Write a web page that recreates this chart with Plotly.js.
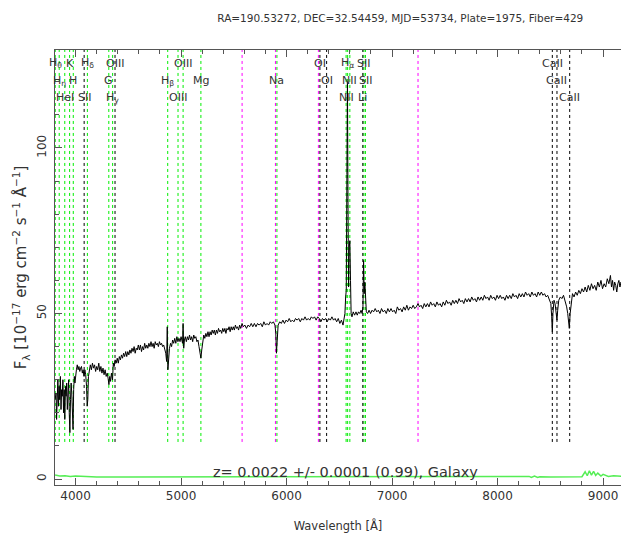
<!DOCTYPE html>
<html>
<head>
<meta charset="utf-8">
<script src="https://cdn.plot.ly/plotly-3.0.1.min.js"></script>
<style>html,body{margin:0;padding:0;background:#fff;}#chart{width:621px;height:533px;}</style>
</head>
<body>
<div id="chart"></div>
<script>
// Spectrum (observed wavelength, flux in 1e-17 erg/cm2/s/A)
const wave = [3806,3815,3820,3826,3832,3838,3844,3850,3856,3862,3868,3874,3880,3886,3892,3898,3904,3910,3916,3922,3928,3934,3940,3946,3952,3958,3964,3970,3976,3982,3988,3994,
4000,4008,4016,4024,4032,4040,4048,4056,4064,4072,4080,4088,4096,4104,4110,4116,4122,4130,4140,4150,4160,4170,4180,4190,4200,4210,4220,4230,4240,4250,4260,4270,4280,4290,4300,4308,4316,4324,4332,4340,4350,4358,4366,4375,4385,4395,
4405,4415,4425,4435,4445,4455,4465,4475,4485,4495,4505,4515,4525,4535,4545,4555,4565,4575,4585,4595,4605,4615,4625,4635,4645,4655,4665,4675,4685,4695,4705,4715,4725,4735,4745,4755,4765,4775,4785,4795,4805,4815,4825,4835,4845,4855,4863,4869,4875,4882,4890,4900,4910,4920,4930,4940,4950,4960,4970,4980,4990,
5000,5008,5014,5019,5025,5032,5040,5050,5060,5070,5080,5090,5100,5110,5120,5130,5140,5150,5160,5170,5180,5188,5196,5205,5215,5225,5235,5245,5255,5265,5275,5285,5295,5305,5315,5325,5335,5345,5355,5365,5375,5385,5395,5405,5415,5425,5435,5445,5455,5465,5475,5485,5495,5505,5515,5525,5535,5545,5555,5565,5578,5590,
5605,5620,5635,5650,5665,5680,5695,5710,5725,5740,5755,5770,5785,5800,5815,5830,5845,5860,5875,5890,5898,5904,5911,5920,5935,5950,5965,5980,5995,
6010,6025,6040,6055,6070,6085,6100,6115,6130,6145,6160,6175,6190,6205,6220,6235,6250,6265,6280,6295,6310,6325,6340,6355,6370,6385,6400,6415,6430,6445,6460,6475,6490,6505,6520,6535,6545,6553,6560,6566,6572,6577,6582,6588,6594,6600,6606,6612,6620,6632,6645,6658,6670,6682,6694,6706,6716,6724,6730,6736,6742,6748,6756,6768,6782,6796,
6810,6825,6840,6855,6870,6885,6900,6915,6930,6945,6960,6975,6990,7005,7020,7035,7050,7065,7080,7095,7110,7125,7140,7155,7170,7185,7200,7215,7230,7246,7260,7275,7290,7305,7320,7335,7350,7365,7380,7395,7410,7425,7440,7455,7470,7485,7500,
7515,7530,7545,7560,7575,7590,7605,7620,7635,7650,7665,7680,7695,7710,7725,7740,7755,7770,7785,7800,7815,7830,7845,7860,7875,7890,7905,7920,7935,7950,7965,7980,7995,
8010,8025,8040,8055,8070,8085,8100,8115,8130,8145,8160,8175,8190,8205,8220,8235,8250,8265,8280,8295,8310,8325,8340,8355,8370,8385,8400,8415,8430,8445,8460,8475,8490,8505,8513,8519,8525,8535,8545,8555,8563,8570,8580,8595,8610,8625,8640,8655,8665,8672,8680,8688,8698,
8710,8725,8740,8755,8770,8785,8800,8815,8830,8845,8860,8875,8890,8905,8920,8935,8950,8965,8980,8995,9010,9025,9040,9055,9070,9080,9090,9100,9110,9120,9130,9140,9150,9160,9170,9180];
const flux = [24,26,18,25,30,22,28,24,31,21,27,25,30,20,27,18,28,25,29,21,27,30,20,14,24,29,26,21,15,27,31,29,
32,33,34.5,33,34,32.5,33.5,34,32,33,31,33,31.5,28,22,24,31,33,34.5,33,35,33.5,34.5,32.5,34,33,35,32.5,34,32,33.5,31.5,33,31,32,30.5,28.5,31,29.5,32,30,35,34,36,35,36.5,
35,37,36,37.5,36.5,38,37,38.5,37,38.5,37.5,39,38,39.5,38.5,40,38,39.5,39,40.5,39,40.5,38.5,40,39,41,39.5,40.5,39.5,41,40,41.5,40,41,39.5,41.5,40.5,41,40,41.5,40.5,41,40,40.5,39,38,35.5,46,33,37,39.5,41,40,42,41,42.5,41,43,41.5,42.5,41.5,
43,42,41,47,39.5,42,43,41.5,43,42,43.5,42,43,41.5,43.5,42.5,43,41.5,42,40,38.5,36.5,39,42,43.5,42.5,44,43,44.5,43,44.5,43.5,45,44,45,43.5,45,44,45.5,44.5,45,44,45.5,44.5,45.5,44,45.5,45,46,44.5,46,45,46,45,46.5,45.5,46,45,46.5,45.5,47,46,
46.5,45.5,46.5,46,47,46,47,46,47,46.5,47,46,47.5,46.5,47,46.5,47.5,47,47.5,46.5,44,38,43,46.5,47.5,47,48,47,48,
47.5,48.5,47.5,48,47.5,48.5,48,48.5,47.5,48.5,48,49,48,48.5,48,49,48.5,49,48,49,48.5,47.5,48.5,48,48.5,47.5,48.5,48,49,48,48.5,47.5,48.5,47,48,46.5,48,50,55,57,92,120,84,58,70,72,60,50,49,50.5,49.5,50.5,49.5,50.5,50,51,50,52,66,56,59.5,55,50.5,50,51,50,
51,50.5,51.5,50.5,51,50,51.5,50.5,51,50,51.5,50.5,51.5,50.5,51,50,52,51,51.5,50.5,52,51,52.5,51,52,51.5,52.5,51.5,52,53,52,52.5,51.5,53,52,53,52,53.5,52.5,53,52,53.5,52.5,53,52,53.5,52.5,
54,53,53.5,52.5,54,53,54,53,54.5,53.5,54,53,54.5,53.5,54.5,53.5,55,54,54.5,53.5,55,54,55,54,55.5,54.5,55,54,55.5,54.5,55,54,55.5,
54.5,55.5,54.5,55,54,55.5,54.5,55.5,54.5,56,55,55.5,54.5,56,55,56,55,56.5,55.5,56,55,56.5,55.5,56,55,56.5,55.5,56.5,55.5,56,55,55.5,54.5,53,49,44.5,50,54,53,50,48,51,54,55,54.5,55.5,54,52,50,48,45.5,50,54,
56,55,56.5,55.5,57,56,57.5,56.5,58,56.5,58.5,57,59,57.5,58.5,57,59.5,58,60,57.5,59,58,60.5,59,61.5,58,60,57,59.5,58.5,56.5,59,60,58,59.5,58.5];

// Error spectrum
const errWave = [3806,3850,3900,3950,4000,4050,4100,4200,4500,5000,6000,7000,8000,8200,8300,8320,8350,8380,8400,8500,8800,8830,8850,8870,8890,8910,8930,8950,8980,9000,9050,9100,9180];
const errFlux = [1.2,0.9,1.0,0.8,0.9,0.8,0.7,0.6,0.6,0.6,0.6,0.6,0.6,0.6,0.8,0.5,0.9,0.5,0.7,0.6,0.7,2.2,1.0,2.5,1.2,2.3,1.1,1.8,0.9,1.4,0.8,1.0,0.8];

// Spectral line markers (observed wavelengths)
const greenLines = [3807.3,3844.9,3897.6,3943.5,3978.3,4111.9,4315.1,4351.3,4873.4,4971.2,5019.2,5188.0,5908.6,6564.3,6579.0,6599.8,6733.1,6747.5];
const blackLines = [4081.3,4374.0,6316.0,6379.5,6722.7,8519.0,8563.2,8683.6];
const skyLines = [5578.5,5894.6,6301.7,7246.0];

const labelText = ['H<sub>θ</sub>','K','H<sub>δ</sub>','OIII','OIII','OI','H<sub>α</sub>','SII','CaII',
  'H<sub>η</sub>','H','G','H<sub>β</sub>','Mg','Na','OI','NII','SII','CaII',
  'HeI','SII','H<sub>γ</sub>','OIII','NII','Li','CaII'];
const labelWave = [3807.3,3943.5,4111.9,4374.0,5019.2,6316.0,6579.0,6733.1,8519.0,
  3844.9,3978.3,4315.1,4873.4,5188.0,5908.6,6379.5,6599.8,6747.5,8563.2,
  3897.6,4081.3,4351.3,4971.2,6564.3,6722.7,8683.6];
const labelRow = [1,1,1,1,1,1,1,1,1, 2,2,2,2,2,2,2,2,2,2, 3,3,3,3,3,3,3];

const titleText = 'RA=190.53272, DEC=32.54459, MJD=53734, Plate=1975, Fiber=429';
const zText = 'z= 0.0022 +/- 0.0001 (0.99), Galaxy';

const FONT = 'DejaVu Sans';
const TXT = '#333';
const AX = '#555';

const shapes = [];
function addLines(arr, color) {
  arr.forEach(w => shapes.push({type:'line', xref:'x', yref:'y', x0:w, x1:w, y0:11.2, y1:129.6,
    line:{color:color, width:1, dash:'dot'}, layer:'below'}));
}
addLines(greenLines, '#00ee00');
addLines(blackLines, '#000000');
addLines(skyLines, '#ff00ff');

const rowY = {1:0.970, 2:0.929, 3:0.890};
const annotations = labelText.map((t,i) => ({
  text:t, x:labelWave[i], xref:'x', y:rowY[labelRow[i]], yref:'paper',
  xanchor:'center', yanchor:'middle', showarrow:false,
  font:{family:FONT, size:11, color:TXT}
}));
annotations.push({text:zText, x:6560, xref:'x', y:2.2, yref:'y', xanchor:'center', yanchor:'middle',
  showarrow:false, font:{family:FONT, size:14.5, color:TXT}});

const traces = [
  {x:errWave, y:errFlux, type:'scatter', mode:'lines', line:{color:'#55ee55', width:1.5}, hoverinfo:'skip'},
  {x:wave, y:flux, type:'scatter', mode:'lines', line:{color:'#000000', width:1}, hoverinfo:'skip'}
];

const layout = {
  width:621, height:533,
  margin:{l:55, r:0, t:50, b:48},
  paper_bgcolor:'#ffffff', plot_bgcolor:'#ffffff',
  showlegend:false,
  title:{text:titleText, x:0.61, xref:'paper', xanchor:'center', y:0.966, yref:'container', yanchor:'middle',
    font:{family:FONT, size:10.5, color:TXT}},
  xaxis:{range:[3805,9170], tick0:0, dtick:1000, ticks:'inside', ticklen:7, tickcolor:AX, tickwidth:1,
    showline:true, linecolor:AX, linewidth:1, mirror:'ticks', showgrid:false, zeroline:false,
    minor:{dtick:200, ticks:'inside', ticklen:4, tickcolor:AX, tickwidth:1},
    tickfont:{family:FONT, size:12, color:TXT},
    title:{text:'Wavelength [Å]', font:{family:FONT, size:11.5, color:TXT}, standoff:19}},
  yaxis:{range:[-1.8,129.6], tick0:0, dtick:50, ticks:'inside', ticklen:7, tickcolor:AX, tickwidth:1,
    showline:true, linecolor:AX, linewidth:1, mirror:false, showgrid:false, zeroline:false,
    minor:{dtick:10, ticks:'inside', ticklen:4, tickcolor:AX, tickwidth:1},
    tickangle:-90, ticklabelstandoff:3,
    tickfont:{family:FONT, size:12, color:TXT},
    title:{text:'F<sub>λ</sub> [10<sup>−17</sup> erg cm<sup>−2</sup> s<sup>−1</sup> Å<sup>−1</sup>]',
      font:{family:FONT, size:15, color:TXT}, standoff:4}},
  shapes:shapes,
  annotations:annotations
};

Plotly.newPlot('chart', traces, layout, {staticPlot:true, displayModeBar:false});
</script>
</body>
</html>
